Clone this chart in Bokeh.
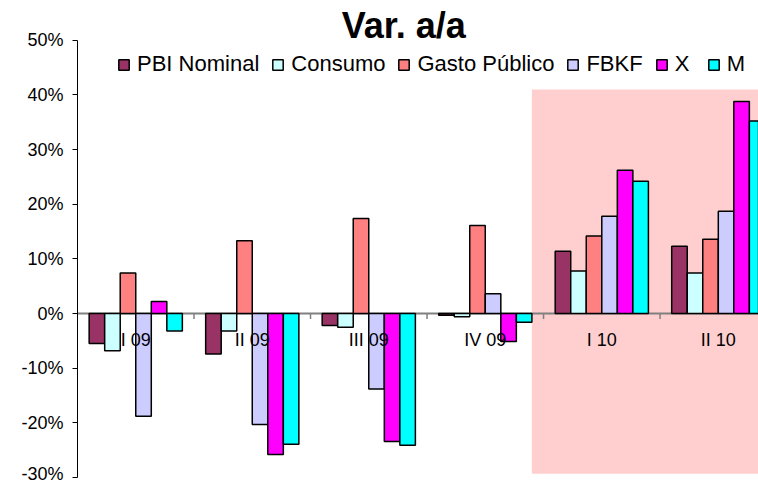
import numpy as np
from bokeh.plotting import figure
from bokeh.models import (Range1d, FixedTicker, PrintfTickFormatter, Legend, LegendItem,
                          Label, ColumnDataSource)
from bokeh.core.properties import value
from bokeh.embed import file_html
from bokeh.resources import INLINE

categories = ["I 09", "II 09", "III 09", "IV 09", "I 10", "II 10"]
series_names = ["PBI Nominal", "Consumo", "Gasto Público", "FBKF", "X", "M"]
pbi = [-5.5, -7.4, -2.2, -0.3, 11.4, 12.3]
consumo = [-6.8, -3.2, -2.5, -0.6, 7.8, 7.4]
gasto = [7.4, 13.3, 17.4, 16.1, 14.2, 13.6]
fbkf = [-18.8, -20.3, -13.8, 3.6, 17.8, 18.7]
x_exp = [2.2, -25.8, -23.4, -5.1, 26.2, 38.8]
m_imp = [-3.2, -23.9, -24.1, -1.6, 24.2, 35.2]
y_ticks = [-30, -20, -10, 0, 10, 20, 30, 40, 50]
colors = ["#993366", "#CCFFFF", "#FF8080", "#CCCCFF", "#FF00FF", "#00FFFF"]
highlight_from = 4  # first highlighted quarter (I 10)

FONT = "Liberation Sans"
series = [pbi, consumo, gasto, fbkf, x_exp, m_imp]
n = len(series)
gap = 1.5
bw = 1.0 / (n + gap)
off0 = gap * bw / 2

p = figure(width=758, height=483, output_backend="svg", toolbar_location=None,
           x_range=Range1d(0, 5.845), y_range=Range1d(-30, 55.8),
           x_axis_location=None, min_border_left=77, min_border_right=0,
           min_border_top=8, min_border_bottom=6)
p.outline_line_color = None
p.xgrid.visible = False
p.ygrid.visible = False
p.background_fill_color = "white"

# highlighted period
p.quad(left=[highlight_from - 0.1], right=[len(categories) + 1], top=[41], bottom=[-29.3],
       fill_color="#ffcfcf", line_color=None)

# zero line
p.segment(x0=[0], x1=[len(categories) + 1], y0=[0], y1=[0], line_color="#808080", line_width=2)
idx = np.arange(len(categories))
p.segment(x0=idx[1:], x1=idx[1:], y0=0, y1=-1.0, line_color="#808080", line_width=1.5)

renderers = []
for j, (vals, col) in enumerate(zip(series, colors)):
    xs = idx + off0 + (j + 0.5) * bw
    src = ColumnDataSource(dict(x=xs, top=vals))
    r = p.vbar(x="x", top="top", bottom=0, width=bw, source=src, fill_color=col,
               line_color="black", line_width=1.5)
    renderers.append(r)

# category labels
p.text(x=idx + 0.5, y=[-4.9] * len(categories), text=categories, text_align="center",
       text_baseline="middle", text_font=value(FONT), text_font_size="18px", text_color="black")

# y axis
ax = p.yaxis[0]
ax.ticker = FixedTicker(ticks=y_ticks)
ax.formatter = PrintfTickFormatter(format="%d%%")
ax.bounds = (-30, 50)
ax.axis_line_color = "black"
ax.axis_line_width = 1
ax.major_tick_out = 5
ax.major_tick_in = 0
ax.minor_tick_line_color = None
ax.major_label_text_font = FONT
ax.major_label_text_font_size = "18px"
ax.major_label_text_color = "black"
ax.major_label_standoff = 9

# title
p.add_layout(Label(x=2.80, y=52.7, text="Var. a/a", text_align="center", text_baseline="alphabetic",
                   text_font=FONT, text_font_size="36px", text_font_style="bold", text_color="black"))

legend = Legend(items=[LegendItem(label=nm, renderers=[r]) for nm, r in zip(series_names, renderers)],
                orientation="horizontal", location=(40, 400), glyph_width=13, glyph_height=13,
                label_standoff=7, spacing=12, padding=0, margin=0,
                label_text_font=FONT, label_text_font_size="22px", label_text_color="black",
                border_line_color=None, background_fill_alpha=0)
p.add_layout(legend)

open("out.html", "w").write(file_html(p, INLINE))
